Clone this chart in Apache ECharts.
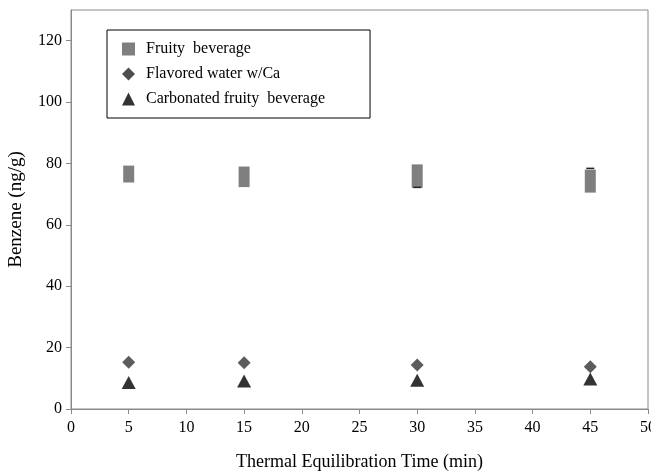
<!DOCTYPE html>
<html><head><meta charset="utf-8">
<script src="https://cdn.jsdelivr.net/npm/echarts@6/dist/echarts.min.js"></script>
<style>html,body{margin:0;padding:0;background:#fff}#c{width:651px;height:472px}</style>
</head><body><div id="c"></div>
<script>
const times = [5, 15, 30, 45];
const fruityLow = [73.8, 72.3, 72.1, 70.5];
const fruityHigh = [79.3, 79.0, 79.7, 78.0];
const fruityCaps = [null, null, 72.2, 78.4];
const flavoredWater = [15.2, 15.1, 14.3, 13.8];
const carbonated = [8.6, 9.1, 9.4, 9.8];
const xTicks = [0, 5, 10, 15, 20, 25, 30, 35, 40, 45, 50];
const yTicks = [0, 20, 40, 60, 80, 100, 120];

const font = 'Liberation Serif, Times New Roman, serif';
const chart = echarts.init(document.getElementById('c'));

const rectData = times.map((t, i) => [t, fruityLow[i], fruityHigh[i], fruityCaps[i]]);

chart.setOption({
  animation: false,
  grid: { left: 71, right: 3, top: 10, bottom: 63, show: true, borderColor: '#8a8a8a', borderWidth: 1,
          containLabel: false, outerBoundsMode: 'none' },
  legend: {
    orient: 'vertical', left: 107, top: 30,
    padding: [11, 45, 11, 15], itemGap: 9, itemWidth: 13, itemHeight: 13,
    borderColor: '#000', borderWidth: 1,
    textStyle: { fontFamily: font, fontSize: 16, color: '#000', padding: [0, 0, 0, 6] },
    data: [
      { name: 'Fruity  beverage', icon: 'rect', itemStyle: { color: '#7f7f7f' } },
      { name: 'Flavored water w/Ca', icon: 'diamond', itemStyle: { color: '#222' } },
      { name: 'Carbonated fruity  beverage', icon: 'triangle', itemStyle: { color: '#000' } }
    ]
  },
  xAxis: {
    type: 'value', min: 0, max: 50, interval: 5,
    name: 'Thermal Equilibration Time (min)', nameLocation: 'middle', nameGap: 44,
    nameTextStyle: { fontFamily: font, fontSize: 18, color: '#000' },
    axisLine: { lineStyle: { color: '#8a8a8a' } },
    axisTick: { length: 5, lineStyle: { color: '#8a8a8a' }, customValues: xTicks },
    axisLabel: { fontFamily: font, fontSize: 16, color: '#000', margin: 11, customValues: xTicks },
    splitLine: { show: false }
  },
  yAxis: {
    type: 'value', min: 0, max: 130, interval: 20,
    name: 'Benzene (ng/g)', nameLocation: 'middle', nameGap: 45,
    nameTextStyle: { fontFamily: font, fontSize: 19, color: '#000' },
    axisLine: { show: true, lineStyle: { color: '#8a8a8a' } },
    axisTick: { show: true, length: 5, lineStyle: { color: '#8a8a8a' }, customValues: yTicks },
    axisLabel: { fontFamily: font, fontSize: 16, color: '#000', margin: 9, customValues: yTicks },
    splitLine: { show: false }
  },
  series: [
    {
      name: 'Fruity  beverage', type: 'custom',
      itemStyle: { color: '#7f7f7f' },
      data: rectData,
      encode: { x: 0, y: [1, 2] },
      renderItem: (params, api) => {
        const lo = api.coord([api.value(0), api.value(1)]);
        const hi = api.coord([api.value(0), api.value(2)]);
        const w = 11;
        const children = [{
          type: 'rect',
          shape: { x: lo[0] - w / 2, y: hi[1], width: w, height: lo[1] - hi[1] },
          style: { fill: '#7f7f7f' }
        }];
        const cap = rectData[params.dataIndex][3];
        if (cap != null) {
          const c = api.coord([api.value(0), cap]);
          children.push({ type: 'line', shape: { x1: c[0] - 4, y1: c[1], x2: c[0] + 4, y2: c[1] },
            style: { stroke: '#222', lineWidth: 1.5 } });
        }
        return { type: 'group', children };
      }
    },
    {
      name: 'Flavored water w/Ca', type: 'scatter', symbol: 'diamond', symbolSize: 13,
      itemStyle: { color: '#333' },
      data: times.map((t, i) => [t, flavoredWater[i]])
    },
    {
      name: 'Carbonated fruity  beverage', type: 'scatter', symbol: 'triangle', symbolSize: [14, 13],
      itemStyle: { color: '#000' },
      data: times.map((t, i) => [t, carbonated[i]])
    }
  ]
});
</script></body></html>
